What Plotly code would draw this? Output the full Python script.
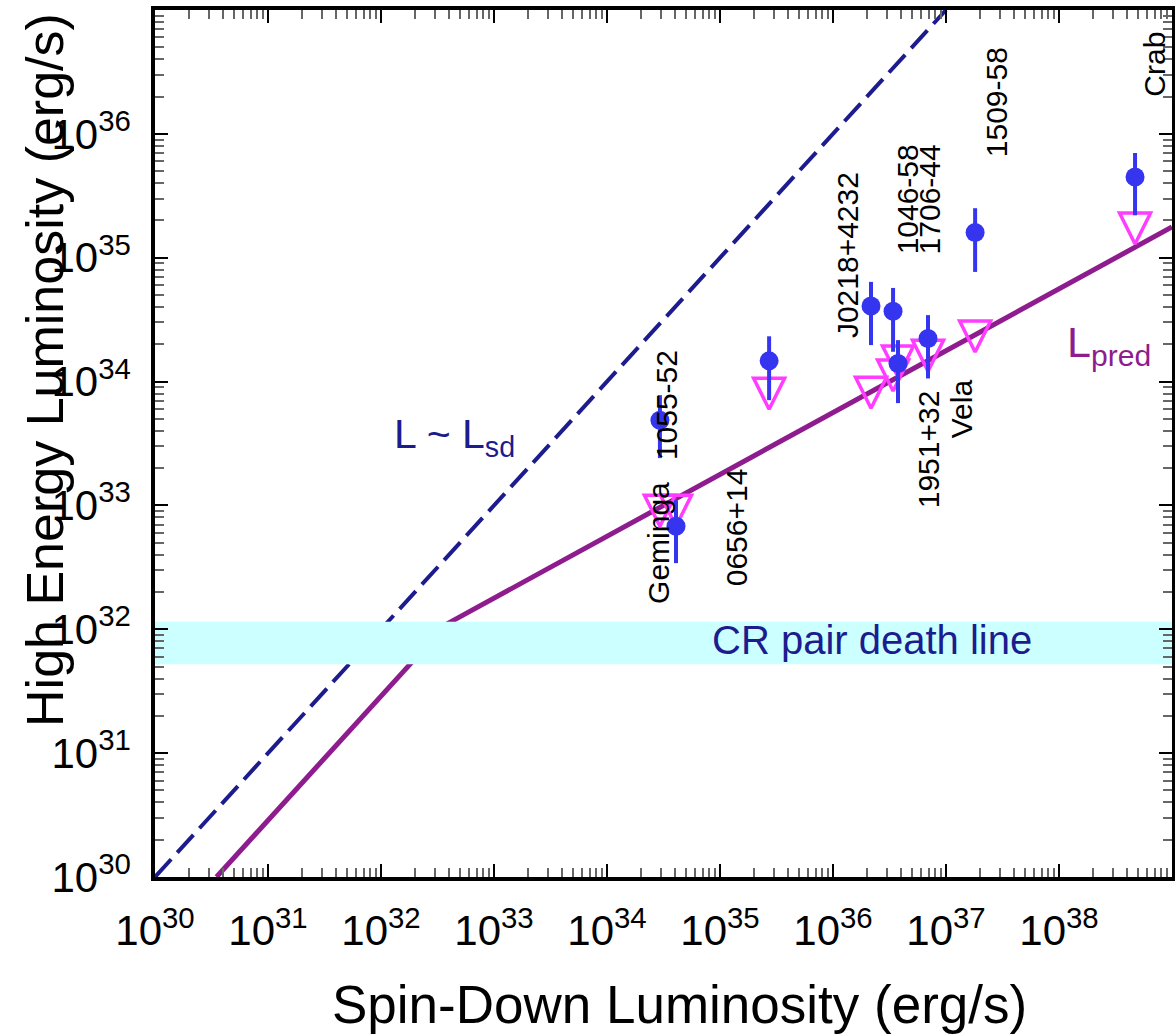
import numpy as np
import plotly.graph_objects as go

# ---------------- data ----------------
# Spin-down luminosity (erg/s) of each pulsar point
lsd = [2.94e34, 4.08e34, 2.72e35, 2.17e36, 3.40e36, 3.76e36, 6.93e36, 1.81e37, 4.71e38]
# Measured high-energy luminosity (blue points) with upper / lower bar ends
l_obs = [4.88e33, 6.8e32, 1.47e34, 4.08e34, 3.70e34, 1.40e34, 2.23e34, 1.60e35, 4.49e35]
l_obs_hi = [7.77e33, 1.10e33, 2.32e34, 6.38e34, 5.70e34, 2.16e34, 3.44e34, 2.51e35, 7.01e35]
l_obs_lo = [2.41e33, 3.42e32, 7.08e33, 1.97e34, 1.74e34, 6.70e33, 1.06e34, 7.68e34, 2.20e35]
# Predicted values (magenta open triangles, tip at the value)
l_tri = [6.8e32, 6.8e32, 5.98e33, 6.1e33, 8.4e33, 1.09e34, 1.21e34, 1.73e34, 1.29e35]

# Line L ~ Lsd
lsd_line_x = [1e30, 1e37]
lsd_line_y = [1e30, 1e37]
# Line L_pred (broken power law)
lpred_x = [3.5e30, 3.8e32, 1e39]
lpred_y = [1e30, 1.1e32, 1.77e35]
# CR pair death line band
band_lo, band_hi = 5.21e31, 1.15e32
x_range_lo, x_range_hi = 1e30, 1e39

# Pulsar name labels (position in erg/s)
names = ["Crab", "1509-58", "1046-58", "1706-44", "J0218+4232", "1951+32",
         "Vela", "1055-52", "Geminga", "0656+14"]
name_x = [7.0e38, 2.77e37, 4.52e36, 7.08e36, 1.33e36, 6.93e36,
          1.36e37, 3.33e34, 2.82e34, 1.39e35]
name_y = [3.65e36, 1.80e36, 2.96e35, 2.96e35, 1.05e35, 2.84e33,
          5.98e33, 6.46e33, 4.97e32, 6.68e32]

x_major = [10.0 ** k for k in range(30, 39)]
x_major_text = ["10<sup>%d</sup>" % k for k in range(30, 39)]
y_major = [10.0 ** k for k in range(30, 37)]
y_major_text = ["10<sup>%d</sup>" % k for k in range(30, 37)]
x_minor = [m * 10.0 ** k for k in range(30, 39) for m in range(2, 10)]
y_minor = [m * 10.0 ** k for k in range(30, 37) for m in range(2, 10)]

FONT = "Liberation Sans, Arial, sans-serif"
NAVY = "#1c1c8e"
PURPLE = "#8e1c8e"
BLUE = "#3535f0"
MAGENTA = "#ff3cff"

fig = go.Figure()

fig.add_trace(go.Scatter(x=lsd_line_x, y=lsd_line_y, mode="lines",
                         line=dict(color=NAVY, width=4, dash="24px,9px"),
                         hoverinfo="skip", showlegend=False))
fig.add_trace(go.Scatter(x=lpred_x, y=lpred_y, mode="lines",
                         line=dict(color=PURPLE, width=5),
                         hoverinfo="skip", showlegend=False))
fig.add_trace(go.Scatter(x=[x_range_lo, x_range_hi, x_range_hi, x_range_lo],
                         y=[band_lo, band_lo, band_hi, band_hi],
                         mode="lines", fill="toself", fillcolor="#ccffff",
                         line=dict(width=0, color="#ccffff"),
                         hoverinfo="skip", showlegend=False))
fig.add_trace(go.Scatter(x=lsd, y=l_tri, mode="markers",
                         marker=dict(symbol="arrow-down-open", size=31,
                                     color=MAGENTA,
                                     line=dict(color=MAGENTA, width=3.5)),
                         showlegend=False))
err_plus = [h - v for h, v in zip(l_obs_hi, l_obs)]
err_minus = [v - lo for v, lo in zip(l_obs, l_obs_lo)]
fig.add_trace(go.Scatter(x=lsd, y=l_obs, mode="markers",
                         marker=dict(symbol="circle", size=19, color=BLUE),
                         error_y=dict(type="data", array=err_plus,
                                      arrayminus=err_minus, symmetric=False,
                                      color=BLUE, thickness=4, width=0),
                         showlegend=False))

for n, xv, yv in zip(names, name_x, name_y):
    fig.add_annotation(x=np.log10(xv), y=np.log10(yv), text=n, textangle=-90,
                       showarrow=False, xanchor="center", yanchor="middle",
                       font=dict(family=FONT, size=30, color="black"))

fig.add_annotation(x=np.log10(1.25e32), y=np.log10(3.56e33),
                   text="L ~ L<sub>sd</sub>", showarrow=False,
                   xanchor="left", yanchor="middle",
                   font=dict(family=FONT, size=41, color=NAVY))
fig.add_annotation(x=np.log10(1.13e38), y=np.log10(1.97e34),
                   text="L<sub>pred</sub>", showarrow=False,
                   xanchor="left", yanchor="middle",
                   font=dict(family=FONT, size=43, color=PURPLE))
fig.add_annotation(x=np.log10(8.17e34), y=np.log10(8.18e31),
                   text="CR pair death line", showarrow=False,
                   xanchor="left", yanchor="middle",
                   font=dict(family=FONT, size=40, color=NAVY))

# axis titles
fig.add_annotation(xref="paper", yref="paper", x=0.516, y=-0.1465,
                   text="Spin-Down Luminosity (erg/s)", showarrow=False,
                   xanchor="center", yanchor="middle",
                   font=dict(family=FONT, size=53, color="black"))
fig.add_annotation(xref="paper", yref="paper", x=-0.108, y=0.585,
                   text="High Energy Luminosity (erg/s)", showarrow=False,
                   textangle=-90, xanchor="center", yanchor="middle",
                   font=dict(family=FONT, size=52, color="black"))

axis_common = dict(
    type="log", showgrid=False, zeroline=False,
    showline=True, linecolor="black", linewidth=3.5, mirror="allticks",
    ticks="inside", ticklen=13, tickwidth=1.5, tickcolor="black",
    tickfont=dict(family=FONT, size=42, color="black"),
)

fig.update_xaxes(**axis_common, range=[30, 39], tickmode="array",
                 tickvals=x_major, ticktext=x_major_text,
                 ticklabelstandoff=14,
                 minor=dict(tickvals=x_minor, ticks="inside", ticklen=9,
                            tickwidth=1.5, tickcolor="#666666"))
fig.update_yaxes(**axis_common, range=[30, 37], tickmode="array",
                 tickvals=y_major, ticktext=y_major_text,
                 ticklabelstandoff=12,
                 minor=dict(tickvals=y_minor, ticks="inside", ticklen=9,
                            tickwidth=1.5, tickcolor="#666666"))

fig.update_layout(width=1175, height=1036,
                  margin=dict(l=155, r=3, t=10, b=159, autoexpand=False),
                  paper_bgcolor="white", plot_bgcolor="white",
                  font=dict(family=FONT), showlegend=False)

fig.write_html("out.html")
